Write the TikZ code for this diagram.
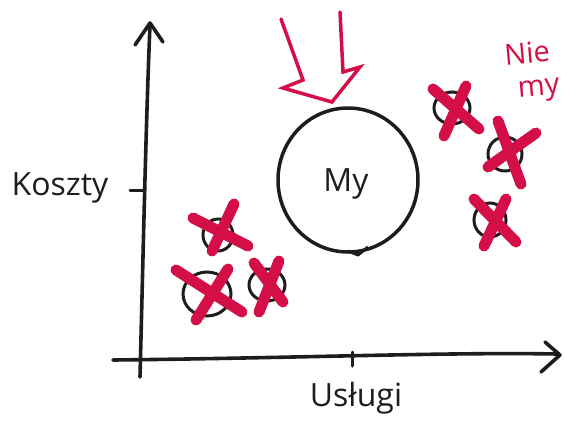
\documentclass[tikz,border=0pt]{standalone}
\usepackage{fontspec}
\setmainfont{Open Sans}
\definecolor{xred}{RGB}{212,14,70}
\definecolor{ink}{RGB}{30,28,28}
\begin{document}
\begin{tikzpicture}[x=1pt,y=-1pt,
  axis/.style={draw=ink,line width=3.6pt,line cap=round,line join=round},
  ring/.style={draw=ink,line width=3pt},
  cross/.style={draw=xred,line width=11pt,line cap=round},
  lbl/.style={inner sep=0pt,text=ink,font=\fontsize{32}{36}\selectfont},
  rlbl/.style={inner sep=0pt,text=xred,font=\fontsize{29}{32}\selectfont,rotate=5}]
\useasboundingbox (0,0) rectangle (565,421);
% axes
\draw[axis] (113,360) .. controls (300,358) and (450,352) .. (557,354);
\draw[axis] (545,342) -- (560,355) -- (541,372);
\draw[axis] (140,377) .. controls (143,260) and (146,120) .. (150,25);
\draw[axis] (135,45) -- (150,23) -- (163,42);
\draw[axis,line width=3pt] (352,352) -- (352,366);
\draw[axis,line width=3pt] (130,190) -- (145,190);
% labels
\node[lbl] (koszty) at (60,188) {Koszty};
\node[lbl] (uslugi) at (356,398) {Usługi};
\node[lbl] (my) at (346,184) {My};
\node[rlbl,text height=21pt,text depth=0pt] (nie) at (527,53) {Nie};
\node[rlbl,text height=15pt,text depth=6pt] (my2) at (539,91) {my};
% big circle
\draw[ring,line width=3.5pt] (348,180) ellipse [x radius=70,y radius=72];
\draw[ring,line width=3pt,line join=round] (348,251) -- (358,255) -- (368,247);
% red arrow
\draw[draw=xred,line width=3.5pt,line cap=round,line join=miter]
  (281,19) -- (303,80) -- (283,88) -- (332,102) -- (360,67) -- (343,72) -- (340,12);
% small circles
\draw[ring] (218,235) ellipse [x radius=15,y radius=16];
\draw[ring] (207,294) ellipse [x radius=24,y radius=22];
\draw[ring] (267,285) ellipse [x radius=18,y radius=16];
\draw[ring] (452,108) ellipse [x radius=18,y radius=16];
\draw[ring] (505,154) ellipse [x radius=17,y radius=17];
\draw[ring] (490,220) ellipse [x radius=16,y radius=17];
% crosses
\draw[cross] (193,218) -- (248,246);
\draw[cross] (234,204) -- (212,251);
\draw[cross] (176,270) -- (242,312);
\draw[cross] (228,269) -- (196,320);
\draw[cross] (254,263) -- (283,302);
\draw[cross] (279,261) -- (259,312);
\draw[cross] (433,89) -- (479,129);
\draw[cross] (466,86) -- (444,136);
\draw[cross] (498,121) -- (521,184);
\draw[cross] (536,133) -- (488,167);
\draw[cross] (474,199) -- (516,242);
\draw[cross] (506,199) -- (484,246);
\end{tikzpicture}
\end{document}
